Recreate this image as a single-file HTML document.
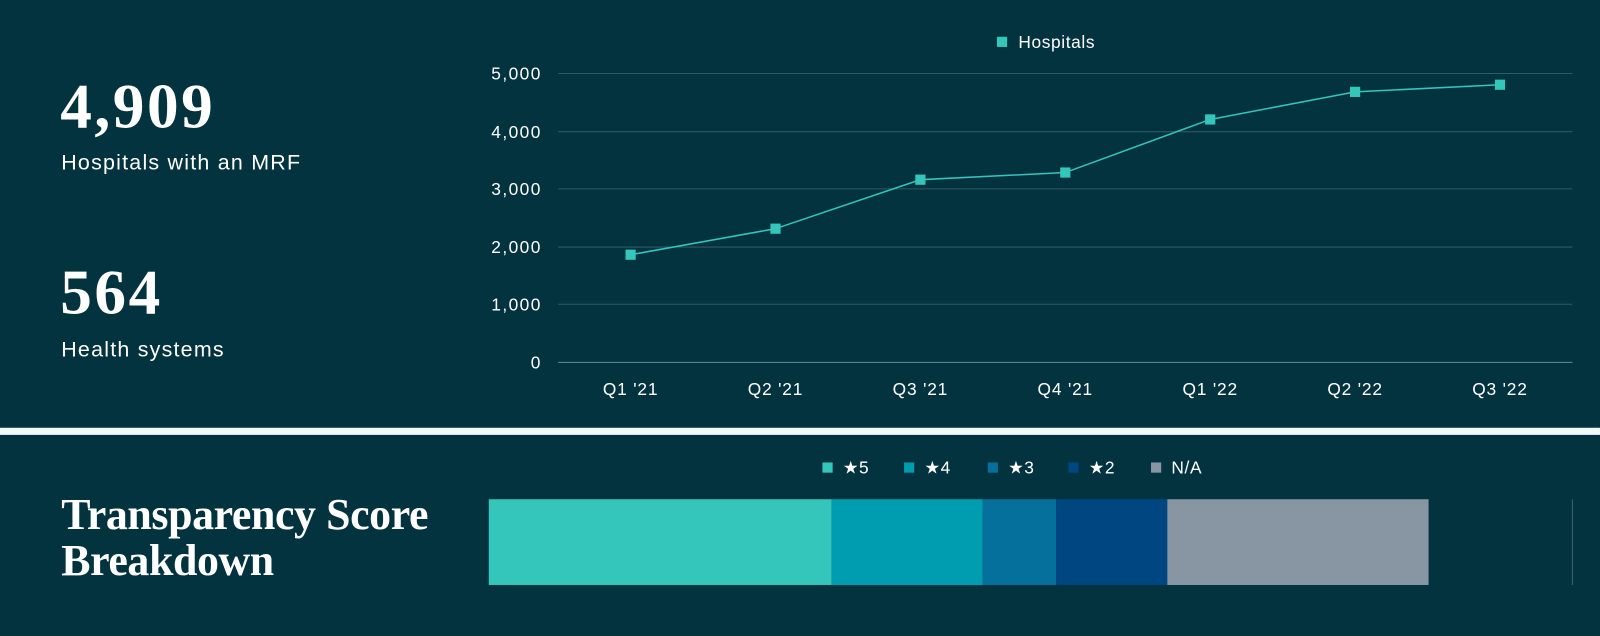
<!DOCTYPE html>
<html><head><style>
body{margin:0;width:1600px;height:636px;background:#03333f;overflow:hidden;font-family:"Liberation Sans",sans-serif;color:#fff;position:relative}
#w{position:absolute;left:0;top:0;width:1568px;height:623px;transform:scale(1.0204,1.0209);transform-origin:0 0}
.big{position:absolute;left:59px;font-family:"Liberation Serif",serif;font-weight:bold;font-size:62px;line-height:62px;letter-spacing:2.5px}
.lab{position:absolute;left:60px;font-size:21px;letter-spacing:1.2px}
</style></head><body><div id="w">
<div class="big" style="top:74px">4,909</div>
<div class="lab" style="top:148px">Hospitals with an MRF</div>
<div class="big" style="top:256px">564</div>
<div class="lab" style="top:331px">Health systems</div>
<div style="position:absolute;left:0;top:419px;width:1568px;height:7px;background:#f3f8f9"></div>
<div style="position:absolute;left:60px;top:482px;font-family:'Liberation Serif',serif;font-weight:bold;font-size:43px;line-height:45px;letter-spacing:-0.4px">Transparency Score<br>Breakdown</div>
<svg width="1568" height="623" style="position:absolute;left:0;top:0" font-family="Liberation Sans, sans-serif">
<g stroke="#2e5a63" stroke-width="1">
<line x1="547" x2="1541" y1="72" y2="72"/><line x1="547" x2="1541" y1="129" y2="129"/><line x1="547" x2="1541" y1="185" y2="185"/><line x1="547" x2="1541" y1="242" y2="242"/><line x1="547" x2="1541" y1="298" y2="298"/>
</g>
<line x1="547" x2="1541" y1="355" y2="355" stroke="#6b8a90"/>
<g fill="#fff" font-size="17" text-anchor="end" letter-spacing="1.4">
<text x="531" y="78">5,000</text><text x="531" y="135">4,000</text><text x="531" y="191">3,000</text><text x="531" y="248">2,000</text><text x="531" y="304">1,000</text><text x="531" y="361">0</text>
</g>
<g fill="#fff" font-size="17" text-anchor="middle" letter-spacing="0.8">
<text x="618" y="387">Q1 '21</text><text x="760" y="387">Q2 '21</text><text x="902" y="387">Q3 '21</text><text x="1044" y="387">Q4 '21</text><text x="1186" y="387">Q1 '22</text><text x="1328" y="387">Q2 '22</text><text x="1470" y="387">Q3 '22</text>
</g>
<polyline fill="none" stroke="#34c5bb" stroke-width="1.5" points="618,249.5 760,224 902,176 1044,169 1186,117 1328,90 1470,83"/>
<g fill="#34c5bb">
<rect x="613" y="244.5" width="10" height="10"/><rect x="755" y="219" width="10" height="10"/><rect x="897" y="171" width="10" height="10"/><rect x="1039" y="164" width="10" height="10"/><rect x="1181" y="112" width="10" height="10"/><rect x="1323" y="85" width="10" height="10"/><rect x="1465" y="78" width="10" height="10"/>
<rect x="977" y="36" width="10" height="10"/>
</g>
<text x="998" y="47" fill="#fff" font-size="17" letter-spacing="0.6">Hospitals</text>
<g font-size="17" fill="#fff" letter-spacing="0.6">
<rect x="806" y="453" width="10" height="10" fill="#34c5bb"/><text x="826" y="464">★5</text>
<rect x="886" y="453" width="10" height="10" fill="#009cb0"/><text x="906" y="464">★4</text>
<rect x="968" y="453" width="10" height="10" fill="#05709c"/><text x="988" y="464">★3</text>
<rect x="1047" y="453" width="10" height="10" fill="#004680"/><text x="1067" y="464">★2</text>
<rect x="1128" y="453" width="10" height="10" fill="#8895a3"/><text x="1148" y="464">N/A</text>
</g>
<rect x="479" y="489" width="336" height="84" fill="#34c5bb"/>
<rect x="815" y="489" width="148" height="84" fill="#009cb0"/>
<rect x="963" y="489" width="72" height="84" fill="#05709c"/>
<rect x="1035" y="489" width="109" height="84" fill="#004680"/>
<rect x="1144" y="489" width="256" height="84" fill="#8895a3"/>
<line x1="1541" x2="1541" y1="489" y2="573" stroke="#3e626a"/>
</svg>
</div></body></html>
